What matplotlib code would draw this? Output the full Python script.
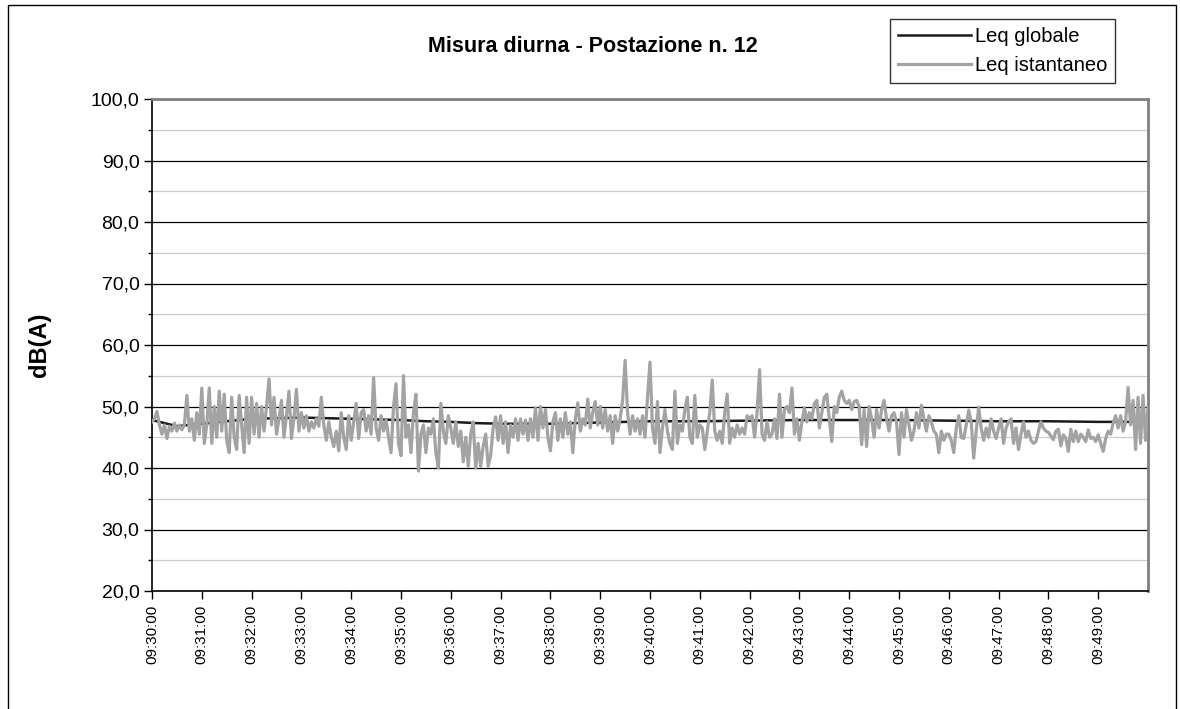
import matplotlib
matplotlib.use("Agg")
import matplotlib.pyplot as plt
import numpy as np
from matplotlib.ticker import FuncFormatter, MultipleLocator

plt.rcParams['font.family'] = ['Liberation Sans', 'DejaVu Sans']

title = "Misura diurna - Postazione n. 12"
ylabel = "dB(A)"
series_names = ["Leq globale", "Leq istantaneo"]
tick_labels = ["09:%02d:00" % m for m in range(30, 50)]

step_s = 3  # seconds between instantaneous samples
leq_ist = [
    47.5, 48.0, 49.2, 47.0, 45.5, 47.0, 44.8, 46.8, 46.0, 47.3, 46.0, 47.0, 46.2, 47.0, 51.8, 46.0,
    48.0, 44.5, 49.0, 45.5, 53.0, 44.0, 47.0, 53.0, 44.0, 50.0, 45.0, 52.5, 46.0, 52.0, 44.5, 42.5,
    51.5, 45.0, 43.0, 51.8, 47.0, 42.5, 51.5,
    44.0, 51.5, 45.5, 50.5, 45.0, 50.0, 46.0, 50.0, 54.5, 47.0, 51.5, 45.5, 48.0, 51.0, 45.0, 48.5,
    52.5, 44.8, 48.0, 52.8, 46.0, 49.0, 46.5, 48.5, 46.0, 47.5, 46.5, 48.0, 46.8, 51.5, 47.0, 44.5,
    47.5, 45.0, 43.5, 46.0, 42.8, 49.0, 45.0, 43.0, 48.5,
    44.5, 47.5, 50.5, 44.8, 49.0, 49.5, 46.0, 48.5, 45.5, 54.7, 46.5, 44.5, 48.5, 46.0, 47.8, 45.0,
    42.5, 50.0, 53.7, 44.0, 42.0, 55.0, 45.0, 47.0, 42.5, 49.0, 52.0, 39.5, 45.5, 47.0, 42.5, 46.5,
    45.5, 48.0, 42.5, 40.0, 50.5, 46.0, 44.0, 48.5,
    46.5, 44.0, 47.5, 43.5, 46.0, 41.0, 45.0, 40.3, 45.5, 47.5, 40.0, 44.0, 40.3, 43.5, 45.5, 40.3,
    42.0, 46.5, 48.3, 44.5, 48.5, 44.0, 47.5, 42.5, 47.0, 45.0, 48.0, 44.5, 48.0, 45.5, 47.8, 44.5,
    48.0, 45.0, 49.8, 44.5, 50.0, 46.5, 49.5, 45.0,
    42.8, 47.5, 49.0, 44.5, 48.0, 45.0, 49.0, 45.5, 47.5, 42.5, 48.0, 50.6, 46.0, 48.0, 47.0, 51.2,
    46.5, 49.0, 50.8, 47.0, 50.0, 46.5, 49.5, 46.0, 48.5, 44.0, 48.5, 46.0, 48.0, 51.0, 57.5, 49.0,
    45.5, 48.5, 46.0, 48.0, 45.5, 48.5, 45.0, 51.5,
    57.2, 46.5, 44.0, 50.8, 42.5, 46.5, 49.5, 46.0, 44.0, 43.0, 52.5, 44.0, 47.0, 46.0, 49.5, 51.5,
    45.0, 44.0, 51.8, 45.0, 47.0, 46.5, 43.0, 46.0, 49.0, 54.3, 46.0, 44.5, 46.0, 44.0, 49.0, 52.0,
    44.0, 46.5, 45.0, 47.0, 45.5, 46.5, 45.5, 48.5,
    48.0, 48.5, 45.0, 49.0, 56.0, 45.5, 44.5, 47.5, 45.0, 45.5, 48.0, 44.8, 52.0, 45.0, 49.5, 50.0,
    49.0, 53.0, 45.5, 48.0, 44.5, 47.5, 49.8, 47.5, 49.0, 48.0, 50.5, 51.0, 46.5, 49.0, 51.5, 52.0,
    48.0, 44.3, 50.0, 49.0, 51.5, 52.5, 51.0, 50.5,
    51.0, 49.5, 50.8, 51.0, 50.0, 43.8, 49.5, 43.5, 50.0, 48.0, 45.0, 49.5, 46.5, 49.5, 51.0, 48.0,
    46.0, 48.5, 49.0, 47.5, 42.2, 49.0, 45.0, 49.5, 47.0, 44.5, 46.0, 49.0, 46.5, 50.2, 48.0, 46.0,
    48.5, 47.5, 46.0, 45.5, 42.5, 46.0, 44.5, 45.5,
    45.5, 44.5, 42.5, 46.5, 48.5, 45.0, 44.8, 47.0, 49.4, 47.5, 41.6, 46.0, 49.9, 46.5, 44.5, 46.5,
    45.0, 48.0, 46.0, 44.8, 46.5, 48.0, 44.0, 46.5, 47.5, 48.0, 44.0, 46.5, 43.0, 45.5, 47.5, 45.0,
    46.0, 44.5, 44.0, 44.3, 46.0, 47.5, 46.5, 46.0,
    45.8, 45.2, 44.6, 46.0, 46.3, 43.6, 45.4, 44.8, 42.7, 46.3, 44.3, 46.0, 44.3, 45.5, 45.0, 44.3,
    46.2, 44.8, 45.0, 44.3, 45.4, 44.0, 42.7, 44.8, 46.0, 45.5, 47.3, 48.5, 46.5, 48.5, 46.0, 47.5,
    53.1, 47.0, 51.0, 43.0, 51.5, 44.0, 51.8, 44.5, 50.0,
]

glob_t_min = [0, 0.25, 0.5, 1, 1.5, 2, 2.5, 3, 3.5, 4, 4.5, 5, 5.5, 6, 6.5, 7, 7.5, 8, 8.5, 9, 9.5,
              10, 11, 12, 13, 14, 15, 16, 17, 18, 19, 20]
leq_glob = [47.8, 47.3, 46.8, 47.2, 47.6, 48.0, 48.1, 48.2, 48.1, 48.0, 47.9, 47.8, 47.6, 47.5, 47.3,
            47.2, 47.2, 47.2, 47.3, 47.4, 47.5, 47.6, 47.6, 47.7, 47.8, 47.8, 47.8, 47.7, 47.6,
            47.6, 47.5, 47.5]

W, H = 1180, 709
fig = plt.figure(figsize=(W / 100, H / 100), dpi=100)

# outer chart border
fig.patches.append(plt.Rectangle((8 / W, -0.01), (1176 - 8) / W, (H - 5) / H + 0.01,
                                 transform=fig.transFigure, fill=False, edgecolor='black',
                                 linewidth=1.0))

ax = fig.add_axes([152 / W, (H - 591) / H, 996 / W, 492 / H])

t_ist = np.arange(len(leq_ist)) * step_s
t_glob = np.array(glob_t_min) * 60

ax.plot(t_glob, leq_glob, color='#1a1a1a', lw=1.8, zorder=3, label=series_names[0])
ax.plot(t_ist, leq_ist, color='#a3a3a3', lw=2.3, zorder=4, label=series_names[1])

ax.set_xlim(0, 1200)
ax.set_ylim(20, 100)

ax.yaxis.set_major_locator(MultipleLocator(10))
ax.yaxis.set_minor_locator(MultipleLocator(5))
ax.yaxis.set_major_formatter(FuncFormatter(lambda v, p: ("%.1f" % v).replace('.', ',')))
ax.grid(which='major', axis='y', color='black', lw=0.9, zorder=1)
ax.grid(which='minor', axis='y', color='#cccccc', lw=0.9, zorder=1)
ax.set_axisbelow(True)

ax.set_xticks(np.arange(0, 1200, 60))
ax.set_xticklabels(tick_labels, rotation=90, fontsize=11)
ax.tick_params(axis='x', direction='out', length=6, width=1, pad=4)
ax.tick_params(axis='y', which='major', direction='out', length=6, width=1, labelsize=14, pad=3)
ax.tick_params(axis='y', which='minor', direction='out', length=3, width=1)

for s in ['top', 'right']:
    ax.spines[s].set_color('#808080')
    ax.spines[s].set_linewidth(2)
for s in ['left', 'bottom']:
    ax.spines[s].set_color('black')
    ax.spines[s].set_linewidth(1.2)

ax.set_ylabel(ylabel, fontsize=17, fontweight='bold')
ax.yaxis.set_label_coords((51 - 152) / 996, 0.5)

fig.text(593 / W, 1 - 46 / H, title, ha='center', va='center', fontsize=15.5, fontweight='bold')

leg = fig.legend(loc='upper left', bbox_to_anchor=(890 / W, 1 - 19 / H), fontsize=14.5,
                 frameon=True, fancybox=False, edgecolor='black', handlelength=3.6,
                 handletextpad=0.2, borderpad=0.4, labelspacing=0.5, borderaxespad=0)
leg.get_frame().set_linewidth(1.0)

fig.savefig("out.png", dpi=100)
